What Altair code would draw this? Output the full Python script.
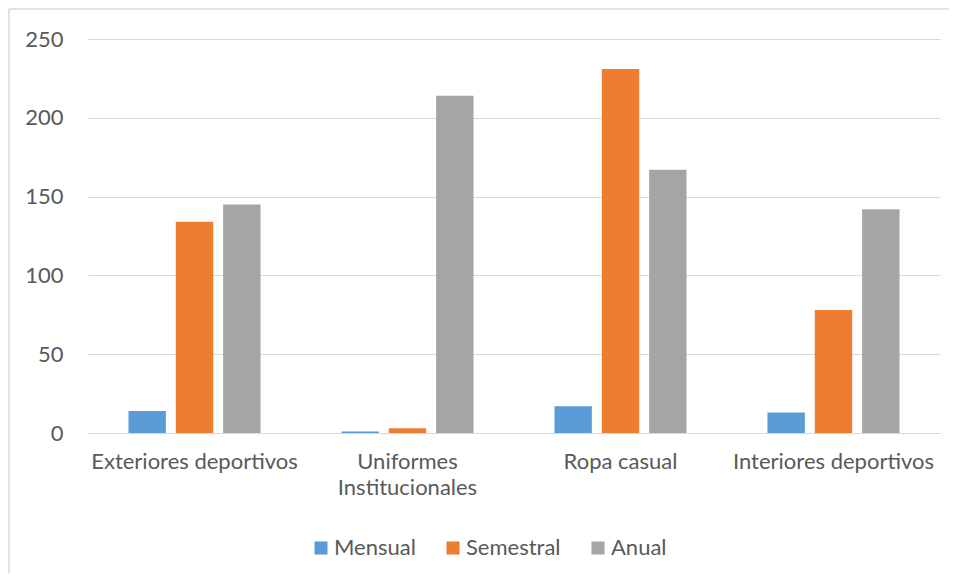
import altair as alt
import pandas as pd

categories = ["Exteriores deportivos", "Uniformes Institucionales", "Ropa casual", "Interiores deportivos"]
series = ["Mensual", "Semestral", "Anual"]
mensual = [14, 1, 17, 13]
semestral = [134, 3, 231, 78]
anual = [145, 214, 167, 142]
colors = ["#5B9BD5", "#ED7D31", "#A5A5A5"]
y_ticks = [0, 50, 100, 150, 200, 250]

rows = []
for i, c in enumerate(categories):
    for s, vals in zip(series, [mensual, semestral, anual]):
        rows.append({"categoria": c, "serie": s, "valor": vals[i]})
df = pd.DataFrame(rows)

FONT = "Lato"
TXT = "#595959"
FS = 22

bars = alt.Chart(df).mark_bar().encode(
    x=alt.X("categoria:N", sort=categories, title=None,
            scale=alt.Scale(paddingInner=0.38, paddingOuter=0.19),
            axis=alt.Axis(labelAngle=0, labelFontSize=FS, labelColor=TXT, labelFont=FONT,
                          ticks=False, domain=True, domainColor="#D9D9D9", labelPadding=18,
                          labelLineHeight=26, labelLimit=400,
                          labelExpr="datum.label == 'Uniformes Institucionales' ? ['Uniformes', 'Institucionales'] : datum.label")),
    xOffset=alt.XOffset("serie:N", sort=series, scale=alt.Scale(paddingInner=0.21)),
    y=alt.Y("valor:Q", title=None, scale=alt.Scale(domain=[0, 250], nice=False),
            axis=alt.Axis(values=y_ticks, labelFontSize=FS, labelColor=TXT, labelFont=FONT,
                          ticks=False, domain=False, gridColor="#D9D9D9", labelPadding=25)),
    color=alt.Color("serie:N", sort=series, scale=alt.Scale(domain=series, range=colors),
                    legend=alt.Legend(title=None, orient="none", direction="horizontal",
                                      legendX=222, legendY=498, symbolType="square",
                                      symbolSize=170, symbolStrokeWidth=0,
                                      labelFontSize=FS, labelColor=TXT, labelFont=FONT,
                                      columnPadding=26, symbolOffset=0, labelOffset=2)),
)

border_top = alt.Chart(pd.DataFrame({"a": [0]})).mark_rule(color="#D9D9D9", strokeWidth=1.5).encode(
    x=alt.value(-79), x2=alt.value(870), y=alt.value(-30))
border_left = alt.Chart(pd.DataFrame({"a": [0]})).mark_rule(color="#D9D9D9", strokeWidth=1.5).encode(
    x=alt.value(-79), y=alt.value(-30), y2=alt.value(545))

chart = alt.layer(border_top, border_left, bars).properties(
    width=852, height=394,
    padding={"left": 80, "top": 31, "right": 9, "bottom": 140},
    autosize=alt.AutoSizeParams(type="none"),
    background="white",
).configure_view(stroke=None)

chart.save("out.html", embed_options={"renderer": "svg", "actions": False})
